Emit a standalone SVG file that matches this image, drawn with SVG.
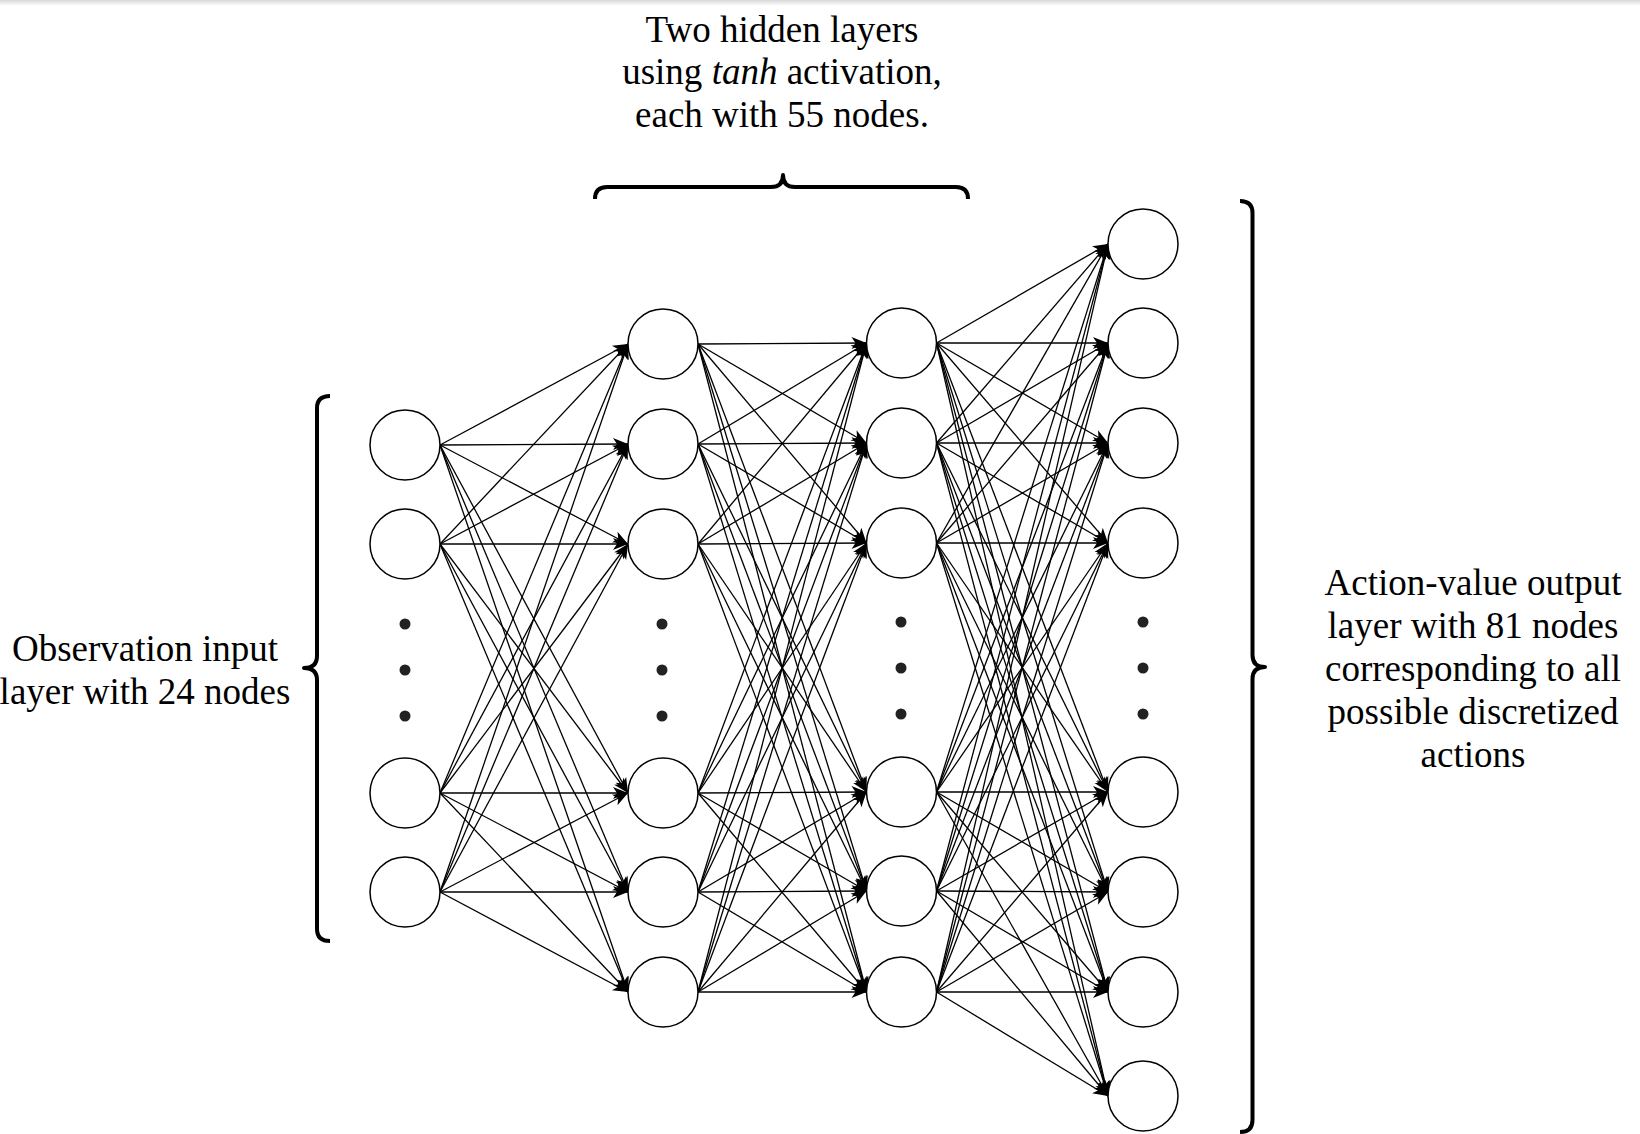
<svg xmlns="http://www.w3.org/2000/svg" width="1640" height="1134" viewBox="0 0 1640 1134">
<style>
.e{stroke:#000;stroke-width:1.3;fill:none;marker-end:url(#arr)}
.n{fill:#fff;stroke:#000;stroke-width:1.5}
.d{fill:#222}
.b{fill:none;stroke:#000;stroke-width:4;stroke-linejoin:round}
.t{font-family:"Liberation Serif","Times New Roman",serif;font-size:37px;fill:#000;text-anchor:middle}
</style>
<defs>
<marker id="arr" viewBox="-16 -7 17 14" refX="0" refY="0" markerWidth="17" markerHeight="14" markerUnits="userSpaceOnUse" orient="auto">
<path d="M0,0 L-15,-6 L-11,0 L-15,6 Z" fill="#000"/>
</marker>
<linearGradient id="topshade" x1="0" y1="0" x2="0" y2="1">
<stop offset="0" stop-color="#d8d8d8"/>
<stop offset="1" stop-color="#ffffff"/>
</linearGradient>
</defs>
<rect x="0" y="0" width="1640" height="1134" fill="#fff"/>
<rect x="0" y="0" width="1640" height="6" fill="url(#topshade)"/>
<g id="connectors">
<line class="e" x1="440" y1="445" x2="628" y2="344"/>
<line class="e" x1="440" y1="445" x2="628" y2="444"/>
<line class="e" x1="440" y1="445" x2="628" y2="544"/>
<line class="e" x1="440" y1="445" x2="628" y2="793"/>
<line class="e" x1="440" y1="445" x2="628" y2="892"/>
<line class="e" x1="440" y1="445" x2="628" y2="992"/>
<line class="e" x1="440" y1="544" x2="628" y2="344"/>
<line class="e" x1="440" y1="544" x2="628" y2="444"/>
<line class="e" x1="440" y1="544" x2="628" y2="544"/>
<line class="e" x1="440" y1="544" x2="628" y2="793"/>
<line class="e" x1="440" y1="544" x2="628" y2="892"/>
<line class="e" x1="440" y1="544" x2="628" y2="992"/>
<line class="e" x1="440" y1="793" x2="628" y2="344"/>
<line class="e" x1="440" y1="793" x2="628" y2="444"/>
<line class="e" x1="440" y1="793" x2="628" y2="544"/>
<line class="e" x1="440" y1="793" x2="628" y2="793"/>
<line class="e" x1="440" y1="793" x2="628" y2="892"/>
<line class="e" x1="440" y1="793" x2="628" y2="992"/>
<line class="e" x1="440" y1="892" x2="628" y2="344"/>
<line class="e" x1="440" y1="892" x2="628" y2="444"/>
<line class="e" x1="440" y1="892" x2="628" y2="544"/>
<line class="e" x1="440" y1="892" x2="628" y2="793"/>
<line class="e" x1="440" y1="892" x2="628" y2="892"/>
<line class="e" x1="440" y1="892" x2="628" y2="992"/>

<line class="e" x1="698" y1="344" x2="866.5" y2="343"/>
<line class="e" x1="698" y1="344" x2="866.5" y2="443"/>
<line class="e" x1="698" y1="344" x2="866.5" y2="543"/>
<line class="e" x1="698" y1="344" x2="866.5" y2="792"/>
<line class="e" x1="698" y1="344" x2="866.5" y2="891"/>
<line class="e" x1="698" y1="344" x2="866.5" y2="992"/>
<line class="e" x1="698" y1="444" x2="866.5" y2="343"/>
<line class="e" x1="698" y1="444" x2="866.5" y2="443"/>
<line class="e" x1="698" y1="444" x2="866.5" y2="543"/>
<line class="e" x1="698" y1="444" x2="866.5" y2="792"/>
<line class="e" x1="698" y1="444" x2="866.5" y2="891"/>
<line class="e" x1="698" y1="444" x2="866.5" y2="992"/>
<line class="e" x1="698" y1="544" x2="866.5" y2="343"/>
<line class="e" x1="698" y1="544" x2="866.5" y2="443"/>
<line class="e" x1="698" y1="544" x2="866.5" y2="543"/>
<line class="e" x1="698" y1="544" x2="866.5" y2="792"/>
<line class="e" x1="698" y1="544" x2="866.5" y2="891"/>
<line class="e" x1="698" y1="544" x2="866.5" y2="992"/>
<line class="e" x1="698" y1="793" x2="866.5" y2="343"/>
<line class="e" x1="698" y1="793" x2="866.5" y2="443"/>
<line class="e" x1="698" y1="793" x2="866.5" y2="543"/>
<line class="e" x1="698" y1="793" x2="866.5" y2="792"/>
<line class="e" x1="698" y1="793" x2="866.5" y2="891"/>
<line class="e" x1="698" y1="793" x2="866.5" y2="992"/>
<line class="e" x1="698" y1="892" x2="866.5" y2="343"/>
<line class="e" x1="698" y1="892" x2="866.5" y2="443"/>
<line class="e" x1="698" y1="892" x2="866.5" y2="543"/>
<line class="e" x1="698" y1="892" x2="866.5" y2="792"/>
<line class="e" x1="698" y1="892" x2="866.5" y2="891"/>
<line class="e" x1="698" y1="892" x2="866.5" y2="992"/>
<line class="e" x1="698" y1="992" x2="866.5" y2="343"/>
<line class="e" x1="698" y1="992" x2="866.5" y2="443"/>
<line class="e" x1="698" y1="992" x2="866.5" y2="543"/>
<line class="e" x1="698" y1="992" x2="866.5" y2="792"/>
<line class="e" x1="698" y1="992" x2="866.5" y2="891"/>
<line class="e" x1="698" y1="992" x2="866.5" y2="992"/>

<line class="e" x1="936.5" y1="343" x2="1108" y2="244"/>
<line class="e" x1="936.5" y1="343" x2="1108" y2="343"/>
<line class="e" x1="936.5" y1="343" x2="1108" y2="443"/>
<line class="e" x1="936.5" y1="343" x2="1108" y2="543"/>
<line class="e" x1="936.5" y1="343" x2="1108" y2="792"/>
<line class="e" x1="936.5" y1="343" x2="1108" y2="892"/>
<line class="e" x1="936.5" y1="343" x2="1108" y2="992"/>
<line class="e" x1="936.5" y1="343" x2="1108" y2="1096"/>
<line class="e" x1="936.5" y1="443" x2="1108" y2="244"/>
<line class="e" x1="936.5" y1="443" x2="1108" y2="343"/>
<line class="e" x1="936.5" y1="443" x2="1108" y2="443"/>
<line class="e" x1="936.5" y1="443" x2="1108" y2="543"/>
<line class="e" x1="936.5" y1="443" x2="1108" y2="792"/>
<line class="e" x1="936.5" y1="443" x2="1108" y2="892"/>
<line class="e" x1="936.5" y1="443" x2="1108" y2="992"/>
<line class="e" x1="936.5" y1="443" x2="1108" y2="1096"/>
<line class="e" x1="936.5" y1="543" x2="1108" y2="244"/>
<line class="e" x1="936.5" y1="543" x2="1108" y2="343"/>
<line class="e" x1="936.5" y1="543" x2="1108" y2="443"/>
<line class="e" x1="936.5" y1="543" x2="1108" y2="543"/>
<line class="e" x1="936.5" y1="543" x2="1108" y2="792"/>
<line class="e" x1="936.5" y1="543" x2="1108" y2="892"/>
<line class="e" x1="936.5" y1="543" x2="1108" y2="992"/>
<line class="e" x1="936.5" y1="543" x2="1108" y2="1096"/>
<line class="e" x1="936.5" y1="792" x2="1108" y2="244"/>
<line class="e" x1="936.5" y1="792" x2="1108" y2="343"/>
<line class="e" x1="936.5" y1="792" x2="1108" y2="443"/>
<line class="e" x1="936.5" y1="792" x2="1108" y2="543"/>
<line class="e" x1="936.5" y1="792" x2="1108" y2="792"/>
<line class="e" x1="936.5" y1="792" x2="1108" y2="892"/>
<line class="e" x1="936.5" y1="792" x2="1108" y2="992"/>
<line class="e" x1="936.5" y1="792" x2="1108" y2="1096"/>
<line class="e" x1="936.5" y1="891" x2="1108" y2="244"/>
<line class="e" x1="936.5" y1="891" x2="1108" y2="343"/>
<line class="e" x1="936.5" y1="891" x2="1108" y2="443"/>
<line class="e" x1="936.5" y1="891" x2="1108" y2="543"/>
<line class="e" x1="936.5" y1="891" x2="1108" y2="792"/>
<line class="e" x1="936.5" y1="891" x2="1108" y2="892"/>
<line class="e" x1="936.5" y1="891" x2="1108" y2="992"/>
<line class="e" x1="936.5" y1="891" x2="1108" y2="1096"/>
<line class="e" x1="936.5" y1="992" x2="1108" y2="244"/>
<line class="e" x1="936.5" y1="992" x2="1108" y2="343"/>
<line class="e" x1="936.5" y1="992" x2="1108" y2="443"/>
<line class="e" x1="936.5" y1="992" x2="1108" y2="543"/>
<line class="e" x1="936.5" y1="992" x2="1108" y2="792"/>
<line class="e" x1="936.5" y1="992" x2="1108" y2="892"/>
<line class="e" x1="936.5" y1="992" x2="1108" y2="992"/>
<line class="e" x1="936.5" y1="992" x2="1108" y2="1096"/>
</g>

<g id="input-layer">
<circle id="in1" class="n" cx="405" cy="445" r="35"/>
<circle id="in2" class="n" cx="405" cy="544" r="35"/>
<circle class="d" cx="405" cy="624" r="5.5"/>
<circle class="d" cx="405" cy="670" r="5.5"/>
<circle class="d" cx="405" cy="716" r="5.5"/>
<circle id="in3" class="n" cx="405" cy="793" r="35"/>
<circle id="in4" class="n" cx="405" cy="892" r="35"/>
</g>
<g id="hidden-layer-1">
<circle id="h1a" class="n" cx="663" cy="344" r="35"/>
<circle id="h1b" class="n" cx="663" cy="444" r="35"/>
<circle id="h1c" class="n" cx="663" cy="544" r="35"/>
<circle class="d" cx="662" cy="624" r="5.5"/>
<circle class="d" cx="662" cy="670" r="5.5"/>
<circle class="d" cx="662" cy="716" r="5.5"/>
<circle id="h1d" class="n" cx="663" cy="793" r="35"/>
<circle id="h1e" class="n" cx="663" cy="892" r="35"/>
<circle id="h1f" class="n" cx="663" cy="992" r="35"/>
</g>
<g id="hidden-layer-2">
<circle id="h2a" class="n" cx="901.5" cy="343" r="35"/>
<circle id="h2b" class="n" cx="901.5" cy="443" r="35"/>
<circle id="h2c" class="n" cx="901.5" cy="543" r="35"/>
<circle class="d" cx="901" cy="622" r="5.5"/>
<circle class="d" cx="901" cy="668" r="5.5"/>
<circle class="d" cx="901" cy="714" r="5.5"/>
<circle id="h2d" class="n" cx="901.5" cy="792" r="35"/>
<circle id="h2e" class="n" cx="901.5" cy="891" r="35"/>
<circle id="h2f" class="n" cx="901.5" cy="992" r="35"/>
</g>
<g id="output-layer">
<circle id="o1" class="n" cx="1143" cy="244" r="35"/>
<circle id="o2" class="n" cx="1143" cy="343" r="35"/>
<circle id="o3" class="n" cx="1143" cy="443" r="35"/>
<circle id="o4" class="n" cx="1143" cy="543" r="35"/>
<circle class="d" cx="1143" cy="622" r="5.5"/>
<circle class="d" cx="1143" cy="668" r="5.5"/>
<circle class="d" cx="1143" cy="714" r="5.5"/>
<circle id="o5" class="n" cx="1143" cy="792" r="35"/>
<circle id="o6" class="n" cx="1143" cy="892" r="35"/>
<circle id="o7" class="n" cx="1143" cy="992" r="35"/>
<circle id="o8" class="n" cx="1143" cy="1096" r="35"/>
</g>

<g id="brace-hidden">
<path class="b" d="M595,199 Q595,187 607,187 L771,187 Q783,187 783,175 Q783,187 795,187 L956,187 Q968,187 968,199"/>
<text class="t"><tspan x="782" y="42">Two hidden layers</tspan><tspan x="782" y="84">using <tspan font-style="italic">tanh</tspan> activation,</tspan><tspan x="782" y="127">each with 55 nodes.</tspan></text>
</g>
<g id="brace-input">
<path class="b" d="M330,396 Q317,396 317,408 L317,656 Q317,668 304,668 Q317,668 317,680 L317,929 Q317,941 330,941"/>
<text class="t"><tspan x="145" y="661">Observation input</tspan><tspan x="145" y="704">layer with 24 nodes</tspan></text>
</g>
<g id="brace-output">
<path class="b" d="M1240,201 Q1252.5,201 1252.5,213 L1252.5,655 Q1252.5,667 1265,667 Q1252.5,667 1252.5,679 L1252.5,1120 Q1252.5,1132 1240,1132"/>
<text class="t"><tspan x="1473" y="595">Action-value output</tspan><tspan x="1473" y="638">layer with 81 nodes</tspan><tspan x="1473" y="681">corresponding to all</tspan><tspan x="1473" y="724">possible discretized</tspan><tspan x="1473" y="767">actions</tspan></text>
</g>
</svg>
